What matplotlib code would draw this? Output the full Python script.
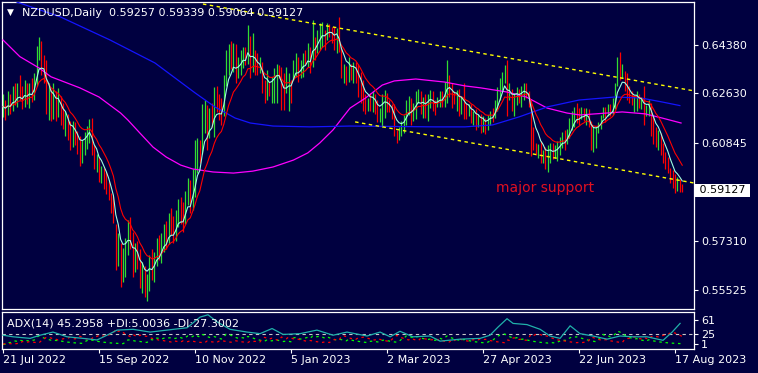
"""
NZDUSD daily bar chart with moving averages, channel lines and an ADX(14) pane,
drawn in the style of a MetaTrader chart window.
"""
import numpy as np
import pandas as pd
import matplotlib
matplotlib.use("Agg")
import matplotlib.pyplot as plt
from matplotlib import transforms

# ---------------------------------------------------------------------------
# Data
# ---------------------------------------------------------------------------
symbol_header = "NZDUSD,Daily  0.59257 0.59339 0.59064 0.59127"
adx_header = "ADX(14) 45.2958 +DI:5.0036 -DI:27.3002"
note_text = "major support"
last_price = 0.59127
price_ticks = [0.55525, 0.57310, 0.60845, 0.62630, 0.64380]
adx_ticks = [1, 25, 61]
first_day = "2022-07-21"

highs = [
    .6262, .6240, .6270, .6262, .6290, .6300, .6302, .6330, .6290, .6310,
    .6300, .6300, .6318, .6335, .6435, .6468, .6452, .6400, .6382, .6300,
    .6280, .6300, .6272, .6282, .6252, .6230, .6200, .6190, .6165, .6162,
    .6158, .6128, .6108, .6095, .6122, .6145, .6172, .6175, .6078, .6045,
    .6032, .6002, .5995, .5978, .5945, .5902, .5892, .5790, .5760, .5722,
    .5705,
    .5742, .5805, .5818, .5762, .5722, .5730, .5700, .5652, .5640, .5612,
    .5680, .5700, .5690, .5742, .5752, .5760, .5792, .5802, .5830, .5850,
    .5820, .5842, .5882, .5890, .5870, .5912, .5958, .5950, .5990, .6095,
    .6100, .6095, .6225, .6240, .6220, .6210, .6228, .6286, .6290, .6262,
    .6245, .6330, .6420, .6440,
    .6452, .6445, .6440, .6395, .6420, .6432, .6430, .6511, .6470, .6480,
    .6420, .6408, .6396, .6375, .6310, .6347, .6305, .6323, .6353, .6371,
    .6365, .6359, .6335, .6359, .6335, .6311, .6384, .6408, .6396, .6384,
    .6408, .6420, .6444, .6432, .6528, .6468, .6492, .6516, .6521, .6492,
    .6516, .6512, .6504, .6504, .6500, .6538,
    .6431, .6370, .6362, .6395, .6370, .6375, .6378, .6370, .6340, .6310,
    .6260, .6245, .6263, .6272, .6260, .6240, .6210, .6260, .6275, .6265,
    .6240, .6225, .6225, .6130, .6140, .6165, .6185, .6240, .6255, .6245,
    .6230, .6270, .6280, .6270, .6250, .6260, .6262, .6275, .6270, .6240,
    .6250, .6270, .6270, .6305, .6383, .6330, .6300, .6270, .6275, .6280,
    .6255, .6300,
    .6230, .6225, .6225, .6200, .6205, .6190, .6190, .6180, .6175, .6185,
    .6200, .6210, .6240, .6285, .6320, .6340, .6365, .6385, .6300, .6280,
    .6265, .6285, .6280, .6290, .6300, .6300, .6270, .6240, .6140, .6085,
    .6080, .6090, .6060, .6070, .6075, .6085, .6085, .6075, .6090, .6105,
    .6125, .6130, .6135, .6175, .6200, .6215, .6230, .6210,
    .6215, .6210, .6210, .6205, .6165, .6140, .6140, .6160, .6185, .6215,
    .6215, .6225, .6225, .6245, .6300, .6395, .6412, .6370, .6345, .6335,
    .6290, .6270, .6255, .6270, .6260, .6250, .6290, .6220, .6240, .6230,
    .6180, .6140, .6130, .6120, .6083, .6050, .6033, .5995, .5985, .5970,
    .5960, .5955, .5934,
]

lows = [
    .6178, .6168, .6185, .6190, .6200, .6222, .6215, .6240, .6205, .6215,
    .6225, .6212, .6232, .6240, .6290, .6385, .6330, .6300, .6190, .6168,
    .6165, .6170, .6162, .6178, .6150, .6135, .6108, .6095, .6058, .6070,
    .6078, .6045, .6000, .6010, .6040, .6062, .6085, .6040, .5990, .5978,
    .5942, .5938, .5918, .5900, .5878, .5830, .5795, .5625, .5640, .5565,
    .5580,
    .5600, .5680, .5702, .5600, .5618, .5628, .5560, .5540, .5528, .5512,
    .5548, .5590, .5582, .5640, .5660, .5650, .5690, .5700, .5720, .5750,
    .5722, .5730, .5780, .5792, .5762, .5790, .5860, .5832, .5842, .5890,
    .5975, .6010, .6045, .6120, .6060, .6100, .6140, .6105, .6195, .6168,
    .6150, .6180, .6290, .6330,
    .6350, .6340, .6300, .6320, .6330, .6355, .6365, .6370, .6320, .6340,
    .6330, .6330, .6335, .6265, .6227, .6239, .6255, .6227, .6227, .6227,
    .6317, .6203, .6203, .6263, .6200, .6230, .6311, .6323, .6305, .6317,
    .6323, .6365, .6359, .6335, .6359, .6384, .6408, .6420, .6432, .6420,
    .6456, .6468, .6444, .6420, .6408, .6414,
    .6320, .6300, .6295, .6305, .6310, .6300, .6300, .6250, .6230, .6200,
    .6190, .6200, .6200, .6195, .6190, .6160, .6160, .6140, .6175, .6195,
    .6195, .6170, .6110, .6085, .6095, .6110, .6120, .6150, .6185, .6150,
    .6165, .6170, .6230, .6190, .6175, .6175, .6165, .6210, .6200, .6185,
    .6215, .6215, .6215, .6215, .6230, .6250, .6210, .6225, .6200, .6180,
    .6190, .6170,
    .6170, .6180, .6155, .6150, .6130, .6140, .6120, .6125, .6115, .6130,
    .6150, .6160, .6175, .6200, .6240, .6275, .6300, .6180, .6240, .6200,
    .6180, .6220, .6230, .6215, .6240, .6245, .6215, .6035, .6060, .6040,
    .6030, .6010, .6010, .5990, .5979, .6010, .6025, .6030, .6020, .6040,
    .6065, .6060, .6080, .6100, .6130, .6140, .6155, .6150,
    .6170, .6165, .6150, .6140, .6060, .6050, .6065, .6120, .6135, .6175,
    .6160, .6180, .6180, .6185, .6205, .6290, .6310, .6320, .6270, .6240,
    .6230, .6220, .6195, .6200, .6210, .6205, .6150, .6180, .6180, .6110,
    .6080, .6070, .6060, .6040, .6011, .5990, .5976, .5940, .5920, .5903,
    .5910, .5905, .5906,
]

closes = [
    .6215, .6196, .6238, .6212, .6262, .6240, .6280, .6258, .6228, .6285,
    .6246, .6282, .6252, .6318, .6412, .6440, .6365, .6345, .6230, .6255,
    .6200, .6238, .6208, .6240, .6185, .6160, .6172, .6118, .6085, .6135,
    .6100, .6075, .6045, .6085, .6110, .6135, .6158, .6060, .6010, .6025,
    .5962, .5988, .5950, .5932, .5898, .5852, .5812, .5650, .5705, .5598,
    .5672,
    .5725, .5762, .5730, .5642, .5698, .5655, .5590, .5622, .5572, .5602,
    .5652, .5618, .5672, .5712, .5688, .5735, .5762, .5738, .5802, .5772,
    .5752, .5812, .5850, .5815, .5800, .5892, .5922, .5855, .5975, .6008,
    .6075, .6030, .6180, .6210, .6135, .6190, .6165, .6255, .6225, .6198,
    .6185, .6305, .6395, .6420,
    .6380, .6420, .6345, .6370, .6390, .6420, .6380, .6480, .6360, .6400,
    .6375, .6340, .6350, .6290, .6255, .6300, .6272, .6315, .6340, .6355,
    .6330, .6250, .6225, .6280, .6310, .6290, .6370, .6395, .6340, .6365,
    .6395, .6375, .6420, .6370, .6510, .6440, .6480, .6500, .6510, .6470,
    .6500, .6495, .6480, .6450, .6490, .6420,
    .6335, .6350, .6320, .6355, .6330, .6360, .6340, .6290, .6265, .6230,
    .6215, .6240, .6225, .6245, .6220, .6180, .6200, .6240, .6255, .6225,
    .6205, .6185, .6130, .6115, .6130, .6145, .6170, .6215, .6230, .6205,
    .6225, .6250, .6265, .6220, .6240, .6210, .6250, .6265, .6230, .6210,
    .6235, .6255, .6240, .6290, .6340, .6300, .6255, .6240, .6260, .6225,
    .6240, .6210,
    .6195, .6210, .6175, .6190, .6160, .6175, .6150, .6165, .6135, .6175,
    .6190, .6180, .6230, .6270, .6300, .6330, .6355, .6240, .6265, .6230,
    .6255, .6270, .6250, .6275, .6290, .6260, .6240, .6090, .6080, .6050,
    .6070, .6025, .6045, .6010, .6050, .6065, .6040, .6060, .6075, .6095,
    .6110, .6090, .6125, .6160, .6180, .6210, .6200, .6175,
    .6195, .6185, .6200, .6160, .6085, .6110, .6135, .6150, .6175, .6200,
    .6185, .6210, .6205, .6220, .6280, .6380, .6330, .6350, .6300, .6265,
    .6240, .6230, .6240, .6255, .6225, .6235, .6190, .6210, .6225, .6150,
    .6120, .6095, .6110, .6070, .6035, .6020, .6000, .5960, .5945, .5925,
    .5950, .5930, .5913,
]

# slow moving averages, read as (bar index, price)
ma_magenta = [
    (0, .6456), (7, .6396), (15, .6355), (20, .6323), (32, .6283),
    (40, .6250), (49, .6192), (52, .6167), (57, .6120), (62.5, .6069),
    (68, .6033), (74, .6004), (79, .5990), (87.5, .5979), (96, .5975),
    (104, .5982), (112.5, .5997), (121, .6022), (127, .6048), (132, .6084),
    (137.5, .6131), (141.7, .6178), (144.6, .6210), (151, .6246), (158, .6293),
    (163, .6308), (172, .6315), (184, .6304), (192.5, .6290), (199, .6283),
    (210, .6268), (218, .6250), (226.7, .6210), (235, .6192), (240.4, .6185),
    (258, .6196), (267.5, .6189), (274.6, .6174), (282.5, .6156),
]
ma_blue = [
    (5.8, .6593), (23.75, .6540), (44.6, .6456), (63.3, .6373), (80, .6265),
    (88.3, .6214), (96.7, .6174), (103, .6156), (112.5, .6145), (128, .6142),
    (144.6, .6145), (180, .6142), (192.5, .6142), (204, .6149), (215, .6178),
    (226.7, .6214), (240, .6239), (255, .6250), (266, .6246), (274.6, .6232),
    (282, .6219),
]

# ADX main line, read as (bar index, value)
adx_line = [
    (0, 23), (4.2, 19), (11.3, 15), (15.4, 23), (20.8, 31), (26.7, 19),
    (33.3, 15), (39.2, 11), (43.3, 23), (47.5, 36), (54.2, 38), (61.3, 31),
    (68.3, 36), (76.7, 42), (82.1, 69), (85.4, 75), (89.2, 57), (94.6, 38),
    (101.7, 31), (107.1, 27), (112.1, 40), (116.7, 25), (123.8, 27),
    (130.8, 36), (137.5, 23), (143.3, 31), (151.7, 21), (157.1, 31),
    (161.3, 19), (165.4, 33), (170.8, 19), (177.9, 21), (182.1, 8),
    (190.4, 13), (198.8, 15), (202.9, 23), (206.3, 44), (210, 65),
    (212.5, 53), (218.3, 50), (223.8, 38), (227.9, 21), (232.1, 15),
    (236.3, 47), (240.4, 27), (245.8, 21), (251.7, 13), (257.1, 21),
    (262.5, 19), (268.3, 19), (275, 10), (278.8, 31), (282.1, 53),
]

# hand-drawn channel lines (bar index, price)
upper_channel = [(83.3, .6586), (288.0, .6272)]
lower_channel = [(146.7, .6160), (288.0, .5939)]

# ---------------------------------------------------------------------------
# Derived series
# ---------------------------------------------------------------------------
W, H = 758, 373
BG = "#000040"
n = len(closes)
idx = np.arange(n)
dates = pd.bdate_range(first_day, periods=n)

c = pd.Series(closes)
h = pd.Series(highs)
l = pd.Series(lows)
opens = c.shift().fillna(c.iloc[0])

ema_fast = c.ewm(span=6, adjust=False).mean()
ema_slow = c.ewm(span=13, adjust=False).mean()

# directional indicators, MetaTrader flavour (exponential smoothing)
up = h.diff().clip(lower=0).fillna(0)
dn = (-l.diff()).clip(lower=0).fillna(0)
plus_dm = up.where(up > dn, 0.0)
minus_dm = dn.where(dn > up, 0.0)
pc = c.shift().fillna(c.iloc[0])
tr = pd.concat([h - l, (h - pc).abs(), (l - pc).abs()], axis=1).max(axis=1)
plus_di = (100 * plus_dm / tr).ewm(span=14, adjust=False).mean()
minus_di = (100 * minus_dm / tr).ewm(span=14, adjust=False).mean()

# ---------------------------------------------------------------------------
# Figure layout
# ---------------------------------------------------------------------------
fig = plt.figure(figsize=(W / 100, H / 100), dpi=100, facecolor=BG)
ax = fig.add_axes([2 / W, 1 - 309 / H, 692 / W, 307 / H], facecolor=BG)
ax_adx = fig.add_axes([2 / W, 1 - 349 / H, 692 / W, 37 / H], facecolor=BG)

for a in (ax, ax_adx):
    a.set_xlim(-0.42, 287.9)
    for sp in a.spines.values():
        sp.set_color("white")
        sp.set_linewidth(0.9)
    a.yaxis.tick_right()
    a.tick_params(axis="y", colors="white", length=3, width=0.8,
                  labelsize=8, pad=2)

ax.set_ylim(0.54838, 0.65933)
ax_adx.set_ylim(-12, 82)

# ---------------------------------------------------------------------------
# Price pane
# ---------------------------------------------------------------------------
bar_colors = np.where(c.values >= opens.values, "#32DC32", "#FF0000")
ax.vlines(idx, l, h, colors=bar_colors, linewidth=0.9, zorder=2)

mx, my = zip(*ma_magenta)
ax.plot(mx, my, color="#FF00FF", lw=0.9, zorder=3)
bx, by = zip(*ma_blue)
ax.plot(bx, by, color="#1414FF", lw=0.9, zorder=3)
ax.plot(idx, ema_slow, color="#FF0000", lw=0.8, zorder=4)
ax.plot(idx, ema_fast, color="#9FFFE0", lw=0.8, zorder=4)

for seg in (upper_channel, lower_channel):
    sx, sy = zip(*seg)
    ax.plot(sx, sy, color="#FFFF00", lw=1.0, ls=(0, (2.5, 2.5)), zorder=5)

ax.text(205.4, 0.5921, note_text, color="#E01020", fontsize=10,
        ha="left", va="center", zorder=6)

ax.set_xticks([])
ax.set_yticks(price_ticks)
ax.set_yticklabels([f"{v:.5f}" for v in price_ticks])

blend = transforms.blended_transform_factory(ax.transAxes, ax.transData)
ax.text(1.003, last_price, f" {last_price:.5f} ", transform=blend,
        ha="left", va="center", fontsize=8, color="black", zorder=7,
        bbox=dict(facecolor="white", edgecolor="none",
                  boxstyle="square,pad=0.12"))

fig.text(7 / W, 1 - 12.5 / H, "\u25BC", color="white", fontsize=6.5,
         va="center", ha="left")
fig.text(22 / W, 1 - 12.5 / H, symbol_header, color="white", fontsize=8,
         va="center", ha="left")

# ---------------------------------------------------------------------------
# ADX pane
# ---------------------------------------------------------------------------
ax_adx.axhline(25, color="#C8C8C8", lw=0.8, ls=(0, (3, 3)), zorder=1)
ax_adx.plot(idx, plus_di, color="#00FF00", lw=0.9, ls=(0, (2, 3)), zorder=2)
ax_adx.plot(idx, minus_di, color="#FF0000", lw=0.9, ls=(0, (2, 3)), zorder=2)
ax_, ay_ = zip(*adx_line)
ax_adx.plot(ax_, ay_, color="#20B2AA", lw=0.9, zorder=3)

ax_adx.set_yticks(adx_ticks)
ax_adx.set_yticklabels([str(v) for v in adx_ticks])

tick_pos = idx[::40]
ax_adx.set_xticks(tick_pos)
ax_adx.set_xticklabels([f"{d.day} {d:%b %Y}" for d in dates[tick_pos]])
ax_adx.tick_params(axis="x", colors="white", length=3, width=0.8,
                   labelsize=8, pad=1.5)
for lbl in ax_adx.get_xticklabels():
    lbl.set_ha("left")

fig.text(7 / W, 1 - 323 / H, adx_header, color="white", fontsize=8,
         va="center", ha="left")

fig.savefig("out.png", dpi=100, facecolor=BG)
